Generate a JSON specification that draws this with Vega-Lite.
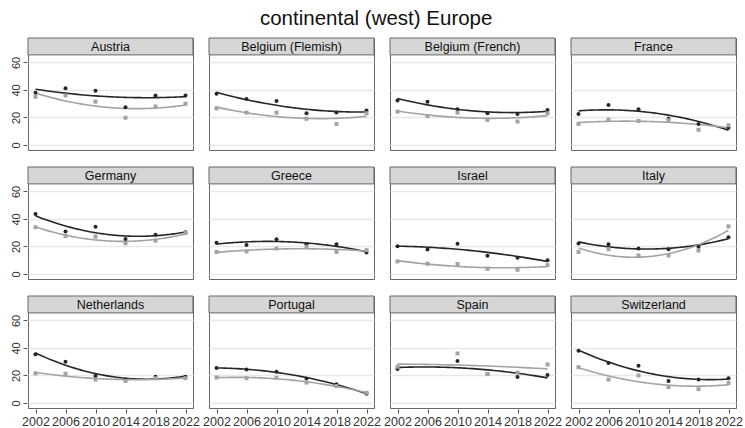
{
  "$schema": "https://vega.github.io/schema/vega-lite/v6.json",
  "padding": {"left": 10, "top": 8, "right": 5, "bottom": 2},
  "title": {"text": "continental (west) Europe", "fontSize": 20.5, "font": "Liberation Sans", "fontWeight": "normal", "color": "#111", "anchor": "middle", "offset": 8},
  "datasets": {
    "pts": [
      {"country":"Austria","year":2002,"series":"s1","value":38},{"country":"Austria","year":2006,"series":"s1","value":41.2},{"country":"Austria","year":2010,"series":"s1","value":39.5},{"country":"Austria","year":2014,"series":"s1","value":27.4},{"country":"Austria","year":2018,"series":"s1","value":35.9},{"country":"Austria","year":2022,"series":"s1","value":36},
      {"country":"Austria","year":2002,"series":"s2","value":35},{"country":"Austria","year":2006,"series":"s2","value":36},{"country":"Austria","year":2010,"series":"s2","value":31.5},{"country":"Austria","year":2014,"series":"s2","value":19.8},{"country":"Austria","year":2018,"series":"s2","value":28},{"country":"Austria","year":2022,"series":"s2","value":30},
      {"country":"Belgium (Flemish)","year":2002,"series":"s1","value":37.3},{"country":"Belgium (Flemish)","year":2006,"series":"s1","value":33.4},{"country":"Belgium (Flemish)","year":2010,"series":"s1","value":32},{"country":"Belgium (Flemish)","year":2014,"series":"s1","value":23},{"country":"Belgium (Flemish)","year":2018,"series":"s1","value":23.5},{"country":"Belgium (Flemish)","year":2022,"series":"s1","value":25},
      {"country":"Belgium (Flemish)","year":2002,"series":"s2","value":26.6},{"country":"Belgium (Flemish)","year":2006,"series":"s2","value":23.5},{"country":"Belgium (Flemish)","year":2010,"series":"s2","value":23.5},{"country":"Belgium (Flemish)","year":2014,"series":"s2","value":19},{"country":"Belgium (Flemish)","year":2018,"series":"s2","value":15.3},{"country":"Belgium (Flemish)","year":2022,"series":"s2","value":23},
      {"country":"Belgium (French)","year":2002,"series":"s1","value":32.4},{"country":"Belgium (French)","year":2006,"series":"s1","value":31.5},{"country":"Belgium (French)","year":2010,"series":"s1","value":26},{"country":"Belgium (French)","year":2014,"series":"s1","value":23},{"country":"Belgium (French)","year":2018,"series":"s1","value":22.5},{"country":"Belgium (French)","year":2022,"series":"s1","value":25.4},
      {"country":"Belgium (French)","year":2002,"series":"s2","value":24.2},{"country":"Belgium (French)","year":2006,"series":"s2","value":21},{"country":"Belgium (French)","year":2010,"series":"s2","value":23.5},{"country":"Belgium (French)","year":2014,"series":"s2","value":18.2},{"country":"Belgium (French)","year":2018,"series":"s2","value":17},{"country":"Belgium (French)","year":2022,"series":"s2","value":23},
      {"country":"France","year":2002,"series":"s1","value":22.5},{"country":"France","year":2006,"series":"s1","value":29},{"country":"France","year":2010,"series":"s1","value":26},{"country":"France","year":2014,"series":"s1","value":19},{"country":"France","year":2018,"series":"s1","value":15.3},{"country":"France","year":2022,"series":"s1","value":12.4},
      {"country":"France","year":2002,"series":"s2","value":15.3},{"country":"France","year":2006,"series":"s2","value":18.4},{"country":"France","year":2010,"series":"s2","value":17.4},{"country":"France","year":2014,"series":"s2","value":18},{"country":"France","year":2018,"series":"s2","value":11},{"country":"France","year":2022,"series":"s2","value":14.3},
      {"country":"Germany","year":2002,"series":"s1","value":43.6},{"country":"Germany","year":2006,"series":"s1","value":30.8},{"country":"Germany","year":2010,"series":"s1","value":34.4},{"country":"Germany","year":2014,"series":"s1","value":25.4},{"country":"Germany","year":2018,"series":"s1","value":28.5},{"country":"Germany","year":2022,"series":"s1","value":30.3},
      {"country":"Germany","year":2002,"series":"s2","value":34},{"country":"Germany","year":2006,"series":"s2","value":27.5},{"country":"Germany","year":2010,"series":"s2","value":27.2},{"country":"Germany","year":2014,"series":"s2","value":22.3},{"country":"Germany","year":2018,"series":"s2","value":24.2},{"country":"Germany","year":2022,"series":"s2","value":29.8},
      {"country":"Greece","year":2002,"series":"s1","value":22.7},{"country":"Greece","year":2006,"series":"s1","value":21},{"country":"Greece","year":2010,"series":"s1","value":25.2},{"country":"Greece","year":2014,"series":"s1","value":21.5},{"country":"Greece","year":2018,"series":"s1","value":21.5},{"country":"Greece","year":2022,"series":"s1","value":15.5},
      {"country":"Greece","year":2002,"series":"s2","value":16},{"country":"Greece","year":2006,"series":"s2","value":16.3},{"country":"Greece","year":2010,"series":"s2","value":18.5},{"country":"Greece","year":2014,"series":"s2","value":19.7},{"country":"Greece","year":2018,"series":"s2","value":16},{"country":"Greece","year":2022,"series":"s2","value":17.3},
      {"country":"Israel","year":2002,"series":"s1","value":20.2},{"country":"Israel","year":2006,"series":"s1","value":17.8},{"country":"Israel","year":2010,"series":"s1","value":22},{"country":"Israel","year":2014,"series":"s1","value":13.3},{"country":"Israel","year":2018,"series":"s1","value":11.8},{"country":"Israel","year":2022,"series":"s1","value":9.9},
      {"country":"Israel","year":2002,"series":"s2","value":9.1},{"country":"Israel","year":2006,"series":"s2","value":7.4},{"country":"Israel","year":2010,"series":"s2","value":7.2},{"country":"Israel","year":2014,"series":"s2","value":3.7},{"country":"Israel","year":2018,"series":"s2","value":3},{"country":"Israel","year":2022,"series":"s2","value":6.4},
      {"country":"Italy","year":2002,"series":"s1","value":22.2},{"country":"Italy","year":2006,"series":"s1","value":21.5},{"country":"Italy","year":2010,"series":"s1","value":18.5},{"country":"Italy","year":2014,"series":"s1","value":18},{"country":"Italy","year":2018,"series":"s1","value":19.8},{"country":"Italy","year":2022,"series":"s1","value":26.6},
      {"country":"Italy","year":2002,"series":"s2","value":16},{"country":"Italy","year":2006,"series":"s2","value":18},{"country":"Italy","year":2010,"series":"s2","value":13.4},{"country":"Italy","year":2014,"series":"s2","value":13.4},{"country":"Italy","year":2018,"series":"s2","value":17},{"country":"Italy","year":2022,"series":"s2","value":34.6},
      {"country":"Netherlands","year":2002,"series":"s1","value":35.4},{"country":"Netherlands","year":2006,"series":"s1","value":30},{"country":"Netherlands","year":2010,"series":"s1","value":19.5},{"country":"Netherlands","year":2014,"series":"s1","value":17},{"country":"Netherlands","year":2018,"series":"s1","value":19},{"country":"Netherlands","year":2022,"series":"s1","value":19},
      {"country":"Netherlands","year":2002,"series":"s2","value":21.5},{"country":"Netherlands","year":2006,"series":"s2","value":21.2},{"country":"Netherlands","year":2010,"series":"s2","value":17},{"country":"Netherlands","year":2014,"series":"s2","value":16},{"country":"Netherlands","year":2018,"series":"s2","value":18},{"country":"Netherlands","year":2022,"series":"s2","value":18},
      {"country":"Portugal","year":2002,"series":"s1","value":25.4},{"country":"Portugal","year":2006,"series":"s1","value":24.4},{"country":"Portugal","year":2010,"series":"s1","value":22.7},{"country":"Portugal","year":2014,"series":"s1","value":17.8},{"country":"Portugal","year":2018,"series":"s1","value":13.6},{"country":"Portugal","year":2022,"series":"s1","value":6.7},
      {"country":"Portugal","year":2002,"series":"s2","value":18.5},{"country":"Portugal","year":2006,"series":"s2","value":18},{"country":"Portugal","year":2010,"series":"s2","value":18.3},{"country":"Portugal","year":2014,"series":"s2","value":14.8},{"country":"Portugal","year":2018,"series":"s2","value":12.3},{"country":"Portugal","year":2022,"series":"s2","value":7.4},
      {"country":"Spain","year":2002,"series":"s1","value":24.6},{"country":"Spain","year":2010,"series":"s1","value":30.5},{"country":"Spain","year":2014,"series":"s1","value":21},{"country":"Spain","year":2018,"series":"s1","value":18.8},{"country":"Spain","year":2022,"series":"s1","value":20.3},
      {"country":"Spain","year":2002,"series":"s2","value":26.3},{"country":"Spain","year":2010,"series":"s2","value":36},{"country":"Spain","year":2014,"series":"s2","value":21},{"country":"Spain","year":2018,"series":"s2","value":22},{"country":"Spain","year":2022,"series":"s2","value":28},
      {"country":"Switzerland","year":2002,"series":"s1","value":38},{"country":"Switzerland","year":2006,"series":"s1","value":29},{"country":"Switzerland","year":2010,"series":"s1","value":27},{"country":"Switzerland","year":2014,"series":"s1","value":16},{"country":"Switzerland","year":2018,"series":"s1","value":17},{"country":"Switzerland","year":2022,"series":"s1","value":18},
      {"country":"Switzerland","year":2002,"series":"s2","value":26},{"country":"Switzerland","year":2006,"series":"s2","value":17},{"country":"Switzerland","year":2010,"series":"s2","value":20},{"country":"Switzerland","year":2014,"series":"s2","value":11.5},{"country":"Switzerland","year":2018,"series":"s2","value":10},{"country":"Switzerland","year":2022,"series":"s2","value":14.5}
    ]
  },
  "data": {"name": "pts"},
  "facet": {"field": "country", "type": "nominal", "title": null, "header": {"labels": false, "labelExpr": "''", "labelFontSize": 0, "labelPadding": 0, "title": null}},
  "columns": 4,
  "spacing": {"row": 15, "column": 14},
  "spec": {
    "width": 165,
    "height": 112,
    "layer": [
      {
        "transform": [{"aggregate": [{"op": "count", "as": "n"}], "groupby": ["country"]}],
        "layer": [
          {
            "mark": {"type": "rect", "fill": "#d6d6d6", "stroke": "#666", "strokeWidth": 1},
            "encoding": {
              "x": {"datum": 2001, "type": "quantitative"},
              "x2": {"datum": 2023},
              "y": {"datum": 65.5, "type": "quantitative"},
              "y2": {"datum": 77.8}
            }
          },
          {
            "mark": {"type": "text", "font": "Liberation Sans", "fontSize": 12.5, "color": "#111", "baseline": "middle", "align": "center"},
            "encoding": {
              "x": {"datum": 2012, "type": "quantitative"},
              "y": {"datum": 71.4, "type": "quantitative"},
              "text": {"field": "country", "type": "nominal"}
            }
          }
        ]
      },
      {
        "transform": [{"regression": "value", "on": "year", "groupby": ["country", "series"], "method": "poly", "order": 2}],
        "mark": {"type": "line", "strokeWidth": 1.6},
        "encoding": {
          "x": {"field": "year", "type": "quantitative"},
          "y": {"field": "value", "type": "quantitative"},
          "color": {"field": "series", "type": "nominal", "scale": {"domain": ["s1", "s2"], "range": ["#262626", "#a3a3a3"]}, "legend": null}
        }
      },
      {
        "mark": {"type": "point", "filled": true, "size": 16, "opacity": 1},
        "encoding": {
          "x": {"field": "year", "type": "quantitative", "scale": {"domain": [2001, 2023], "nice": false, "zero": false}, "axis": {"values": [2002, 2006, 2010, 2014, 2018, 2022], "tickCount": 20, "format": "d", "title": null, "grid": false}},
          "y": {"field": "value", "type": "quantitative", "scale": {"domain": [-3.7, 77.8], "nice": false, "zero": false}, "axis": {"values": [0, 20, 40, 60], "tickCount": 20, "title": null, "grid": true, "labelAngle": -90, "labelOverlap": false}},
          "color": {"field": "series", "type": "nominal", "scale": {"domain": ["s1", "s2"], "range": ["#000000", "#8c8c8c"]}, "legend": null},
          "shape": {"field": "series", "type": "nominal", "scale": {"domain": ["s1", "s2"], "range": ["circle", "square"]}, "legend": null}
        }
      }
    ]
  },
  "config": {
    "header": {"labels": false, "title": null},
    "headerFacet": {"labels": false, "title": null},
    "view": {"stroke": "#666", "strokeWidth": 1},
    "axis": {"labelFont": "Liberation Sans", "labelColor": "#333", "domain": false, "tickColor": "#555", "tickSize": 4, "gridColor": "#e8e8e8", "gridWidth": 1.5},
    "axisX": {"labelFontSize": 12.5, "labelPadding": 2},
    "axisY": {"labelFontSize": 11, "labelPadding": 2}
  }
}
